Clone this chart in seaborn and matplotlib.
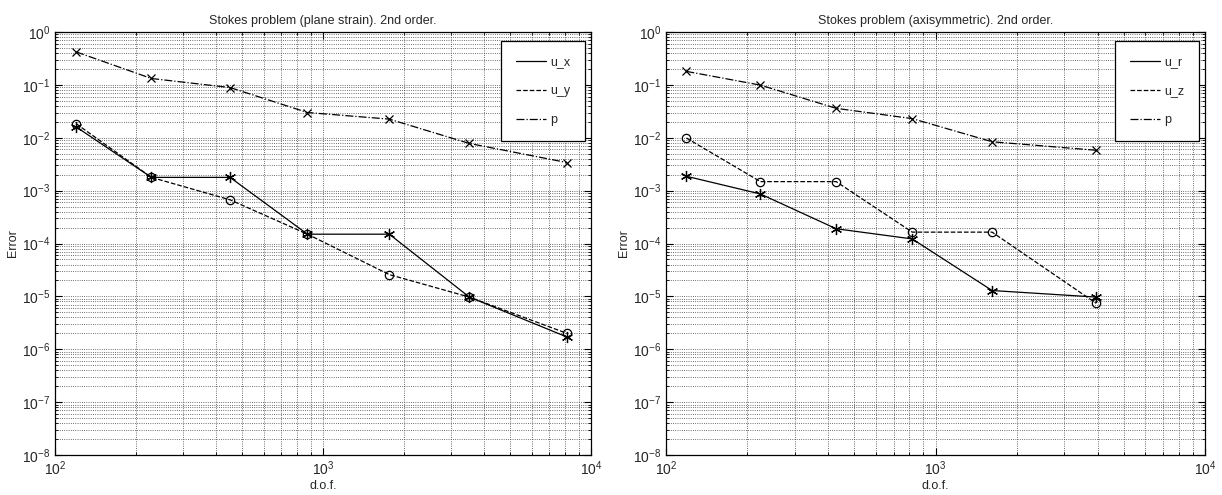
import numpy as np
import matplotlib
matplotlib.use("Agg")
import matplotlib.pyplot as plt
import seaborn as sb
from matplotlib.lines import Line2D
from matplotlib.ticker import LogLocator, NullFormatter

# plane strain case
dof_plane = [120, 229, 450, 875, 1768, 3515, 8124]
ux_plane = [0.016, 0.00178, 0.00178, 1.5e-4, 1.5e-4, 9.7e-6, 1.71e-6]
uy_plane = [0.0184, 0.00178, 6.7e-4, 1.5e-4, 2.58e-5, 9.7e-6, 2.0e-6]
p_plane = [0.42, 0.132, 0.089, 0.030, 0.0225, 0.0078, 0.0034]
labels_plane = ["u_x", "u_y", "p"]

# axisymmetric case
dof_axi = [119, 224, 428, 820, 1622, 3945]
ur_axi = [0.00187, 8.65e-4, 1.9e-4, 1.22e-4, 1.29e-5, 9.7e-6]
uz_axi = [0.0099, 0.00148, 0.00148, 1.64e-4, 1.64e-4, 7.4e-6]
p_axi = [0.18, 0.099, 0.036, 0.023, 0.0084, 0.0058]
labels_axi = ["u_r", "u_z", "p"]

sb.set_style("ticks")
plt.rcParams["font.family"] = ["Liberation Sans", "DejaVu Sans"]

styles = [("-", (6, 2, 0), 8), ("--", "o", 6), ("-.", "x", 6)]


def plot_errors(ax, dof, series, labels, title):
    ax.set_xscale("log")
    ax.set_yscale("log")
    for vals, (ls, mk, ms) in zip(series, styles):
        sb.lineplot(x=dof, y=vals, ax=ax, color="k", linestyle=ls, linewidth=0.9,
                    marker=mk, markersize=ms, markerfacecolor="none",
                    markeredgecolor="k", markeredgewidth=0.9, sort=False)

    ax.set_xlim(1e2, 1e4)
    ax.set_ylim(1e-8, 1e0)
    ax.xaxis.set_major_locator(LogLocator(base=10, numticks=20))
    ax.yaxis.set_major_locator(LogLocator(base=10, numticks=20))
    ax.xaxis.set_minor_locator(LogLocator(base=10, subs=np.arange(2, 10), numticks=100))
    ax.yaxis.set_minor_locator(LogLocator(base=10, subs=np.arange(2, 10), numticks=100))
    ax.xaxis.set_minor_formatter(NullFormatter())
    ax.yaxis.set_minor_formatter(NullFormatter())

    ax.grid(True, which="both", linestyle=":", color="0.25", linewidth=0.6)
    ax.tick_params(which="both", direction="in", top=True, right=True, labelsize=10, color="k")
    ax.tick_params(which="major", length=5)
    ax.tick_params(which="minor", length=2.5)
    for s in ax.spines.values():
        s.set_color("k")
        s.set_linewidth(0.9)

    ax.set_title(title, fontsize=9, pad=6)
    ax.set_xlabel("d.o.f.", fontsize=9, labelpad=1)
    ax.set_ylabel("Error", fontsize=9, labelpad=2)

    handles = [Line2D([], [], color="k", linestyle=ls, linewidth=0.9) for ls, _, _ in styles]
    leg = ax.legend(handles, labels, loc="upper right", bbox_to_anchor=(0.989, 0.979),
                    fontsize=9, frameon=True, fancybox=False, edgecolor="k",
                    framealpha=1, borderpad=1.2, labelspacing=1.38,
                    handlelength=2.4, handletextpad=0.3, borderaxespad=0)
    leg.get_frame().set_linewidth(0.9)


fig = plt.figure(figsize=(12.22, 4.95), dpi=100)
ax1 = fig.add_axes([55 / 1222, 1 - 455 / 495, 536 / 1222, 423 / 495])
ax2 = fig.add_axes([666 / 1222, 1 - 455 / 495, 539 / 1222, 423 / 495])

plot_errors(ax1, dof_plane, [ux_plane, uy_plane, p_plane], labels_plane,
            "Stokes problem (plane strain). 2nd order.")
plot_errors(ax2, dof_axi, [ur_axi, uz_axi, p_axi], labels_axi,
            "Stokes problem (axisymmetric). 2nd order.")

fig.savefig("out.png", dpi=100)
